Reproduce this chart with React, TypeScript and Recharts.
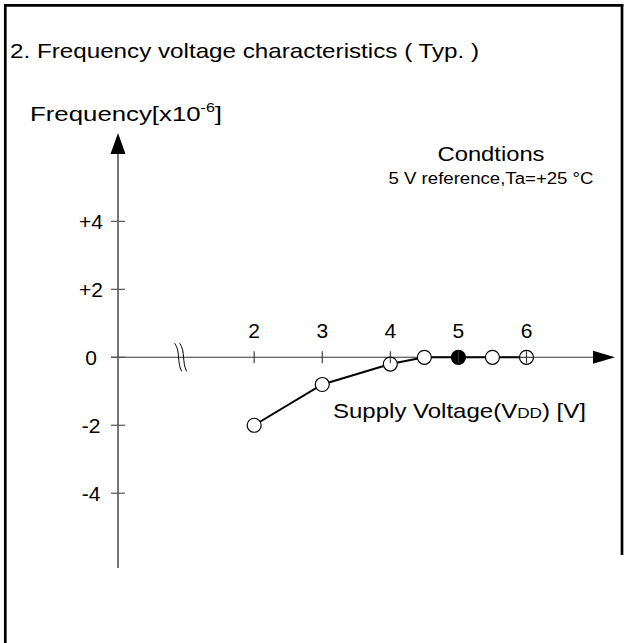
import React from 'react';
import { LineChart, Line, XAxis, YAxis, ReferenceLine, ReferenceDot } from 'recharts';

// ---- data ----
const VOLTAGE = [2, 3, 4, 4.5, 5, 5.5, 6];
const DEVIATION = [-2, -0.8, -0.2, 0, 0, 0, 0];
const X_TICKS = [2, 3, 4, 5, 6];
const X_TICK_LABELS = ['2', '3', '4', '5', '6'];
const Y_TICKS = [4, 2, 0, -2, -4];
const Y_TICK_LABELS = ['+4', '+2', '0', '-2', '-4'];
const REFERENCE_VOLTAGE = 5;
const X_DOMAIN: [number, number] = [0, 7.3];
const Y_DOMAIN: [number, number] = [-6.2, 6.6];
const AXIS_BREAK_AT = 0.95;

const TITLE = '2. Frequency voltage characteristics ( Typ. )';
const CONDITIONS = 'Condtions';
const CONDITIONS_DETAIL = '5 V reference,Ta=+25 \u00B0C';

const data = VOLTAGE.map((v, i) => ({ v, f: DEVIATION[i] }));

const FONT = '"Liberation Sans", Arial, sans-serif';

const YAxisShape = (p: any) => {
  const x = p.x1;
  const top = Math.min(p.y1, p.y2);
  const bottom = Math.max(p.y1, p.y2);
  return (
    <g>
      <line x1={x} y1={top + 18} x2={x} y2={bottom} stroke="#555" strokeWidth={1.6} />
      <polygon points={`${x},${top} ${x - 7.5},${top + 21} ${x + 7.5},${top + 21}`} fill="#000" />
    </g>
  );
};

const XAxisShape = (p: any) => {
  const y = p.y1;
  const left = Math.min(p.x1, p.x2);
  const right = Math.max(p.x1, p.x2);
  return (
    <g>
      <line x1={left - 7} y1={y} x2={right - 18} y2={y} stroke="#333" strokeWidth={1.1} />
      <polygon points={`${right},${y} ${right - 22},${y - 6.5} ${right - 22},${y + 6.5}`} fill="#000" />
    </g>
  );
};

const makeYTick = (label: string) => (p: any) => {
  const { cx, cy } = p;
  return (
    <g>
      <line x1={cx - 7} y1={cy} x2={cx + 7} y2={cy} stroke="#555" strokeWidth={1.2} />
      <text x={cx - 27} y={cy + 7.5} textAnchor="middle" fontSize={21} fontFamily={FONT} fill="#000">
        {label}
      </text>
    </g>
  );
};

const makeXTick = (label: string) => (p: any) => {
  const { cx, cy } = p;
  return (
    <g>
      <line x1={cx} y1={cy - 6} x2={cx} y2={cy + 6} stroke="#333" strokeWidth={1.1} />
      <text x={cx} y={cy - 19.5} textAnchor="middle" fontSize={21} fontFamily={FONT} fill="#000">
        {label}
      </text>
    </g>
  );
};

const BreakShape = (p: any) => {
  const { cx, cy } = p;
  const path = (dx: number) =>
    `M ${cx + dx - 8} ${cy - 14} C ${cx + dx - 2} ${cy - 6}, ${cx + dx - 6} ${cy + 5}, ${cx + dx - 1} ${cy + 14}`;
  return (
    <g>
      <path d={path(0)} stroke="#000" strokeWidth={1} fill="none" />
      <path d={path(5)} stroke="#000" strokeWidth={1} fill="none" />
    </g>
  );
};

const renderDot = (p: any) => {
  const { cx, cy, payload, index } = p;
  const isRef = payload.v === REFERENCE_VOLTAGE;
  const isLast = index === data.length - 1;
  return (
    <g key={`dot-${index}`}>
      <circle cx={cx} cy={cy} r={7} fill={isRef ? '#000' : '#fff'} stroke="#000" strokeWidth={1.2} />
      {isLast && <line x1={cx - 7} y1={cy} x2={cx + 7} y2={cy} stroke="#333" strokeWidth={1.1} />}
    </g>
  );
};

export default function App() {
  return (
    <div style={{ position: 'absolute', left: 0, top: 0, width: 626, height: 643, background: '#fff' }}>
      <LineChart
        width={626}
        height={643}
        data={data}
        margin={{ top: 133, right: 11, bottom: 75, left: 118 }}
      >
        <XAxis type="number" dataKey="v" domain={X_DOMAIN} hide />
        <YAxis type="number" domain={Y_DOMAIN} hide />
        <ReferenceLine x={0} shape={YAxisShape} />
        <ReferenceLine y={0} shape={XAxisShape} />
        <ReferenceDot x={AXIS_BREAK_AT} y={0} r={1} shape={BreakShape} />
        <Line
          dataKey="f"
          stroke="#000"
          strokeWidth={2}
          dot={renderDot}
          activeDot={false}
          isAnimationActive={false}
        />
        {Y_TICKS.map((t, i) => (
          <ReferenceDot key={`y${t}`} x={0} y={t} r={1} shape={makeYTick(Y_TICK_LABELS[i])} />
        ))}
        {X_TICKS.map((t, i) => (
          <ReferenceDot key={`x${t}`} x={t} y={0} r={1} shape={makeXTick(X_TICK_LABELS[i])} />
        ))}
      </LineChart>
      <svg
        width={626}
        height={643}
        style={{ position: 'absolute', left: 0, top: 0, pointerEvents: 'none' }}
        fontFamily={FONT}
      >
        <line x1={5.3} y1={4} x2={5.3} y2={643} stroke="#000" strokeWidth={2.7} />
        <line x1={4} y1={5.3} x2={623.3} y2={5.3} stroke="#000" strokeWidth={2.7} />
        <line x1={622} y1={4} x2={622} y2={555} stroke="#000" strokeWidth={2.7} />
        <text x={10} y={58} fontSize={21} textLength={469} lengthAdjust="spacingAndGlyphs" fill="#000">
          {TITLE}
        </text>
        <text x={30} y={121} fontSize={21} textLength={192} lengthAdjust="spacingAndGlyphs" fill="#000">
          Frequency[x10<tspan fontSize={13} dy={-9}>-6</tspan>
          <tspan dy={9}>]</tspan>
        </text>
        <text x={491} y={161} fontSize={21} textAnchor="middle" textLength={107} lengthAdjust="spacingAndGlyphs" fill="#000">
          {CONDITIONS}
        </text>
        <text x={491} y={184} fontSize={16} textAnchor="middle" textLength={205} lengthAdjust="spacingAndGlyphs" fill="#000">
          {CONDITIONS_DETAIL}
        </text>
        <text x={333} y={418} fontSize={21} textLength={253} lengthAdjust="spacingAndGlyphs" fill="#000">
          Supply Voltage(V<tspan fontSize={15}>DD</tspan>) [V]
        </text>
      </svg>
    </div>
  );
}
